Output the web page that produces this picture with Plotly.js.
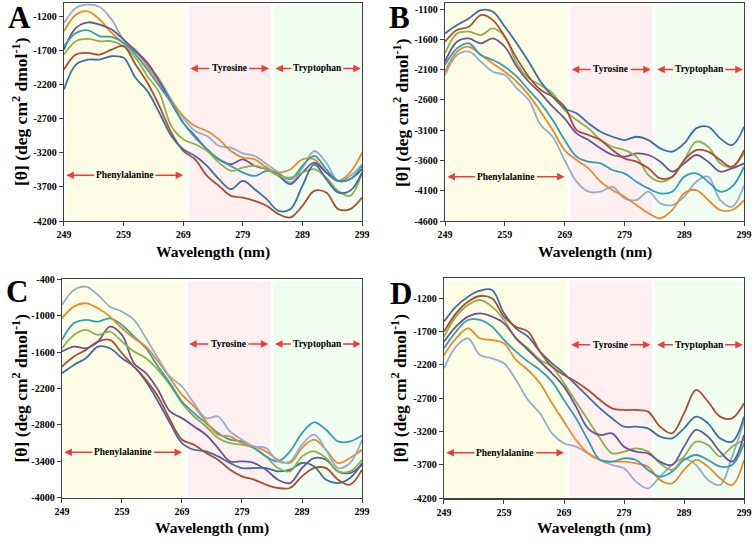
<!DOCTYPE html>
<html>
<head>
<meta charset="utf-8">
<script src="https://cdn.plot.ly/plotly-3.0.1.min.js"></script>
<style>html,body{margin:0;padding:0;background:#fff;}</style>
</head>
<body>
<div id="chart" style="width:752px;height:540px;"></div>
<script>
// Wavelength samples (nm)
const wavelength = [249,251,253,255,257,259,261,263,265,267,269,271,273,275,277,279,281,283,285,287,289,291,293,295,297,299];
const xTicks = [249,259,269,279,289,299];

// Panel A
const A_blue   = [-2269,-1903,-1830,-1830,-1781,-1805,-2098,-2293,-2610,-2952,-3147,-3245,-3391,-3586,-3733,-3611,-3733,-3879,-4050,-4025,-3684,-3367,-3586,-3781,-3757,-3489];
const A_red    = [-1976,-1756,-1732,-1756,-1683,-1634,-1903,-2171,-2513,-2903,-3172,-3294,-3538,-3684,-3830,-3855,-3903,-3977,-4099,-4147,-3977,-3757,-3781,-4025,-4025,-3855];
const A_green  = [-1756,-1561,-1527,-1561,-1561,-1634,-1805,-2074,-2318,-2806,-3001,-3074,-3172,-3342,-3464,-3416,-3391,-3440,-3538,-3562,-3489,-3440,-3562,-3757,-3830,-3489];
const A_purple = [-1683,-1366,-1283,-1317,-1390,-1537,-1708,-1878,-2147,-2464,-2757,-2952,-3147,-3294,-3367,-3294,-3391,-3440,-3538,-3659,-3489,-3342,-3489,-3611,-3586,-3440];
const A_teal   = [-1634,-1439,-1400,-1488,-1498,-1586,-1756,-1976,-2220,-2464,-2757,-2976,-3147,-3294,-3391,-3489,-3538,-3464,-3513,-3586,-3391,-3245,-3440,-3611,-3586,-3391];
const A_orange = [-1415,-1171,-1122,-1244,-1439,-1586,-1708,-1927,-2171,-2440,-2659,-2806,-2879,-3001,-3172,-3269,-3294,-3416,-3489,-3440,-3294,-3294,-3489,-3611,-3489,-3196];
const A_lblue  = [-1293,-1073,-1024,-1058,-1244,-1537,-1683,-1903,-2122,-2415,-2684,-2879,-2952,-3098,-3123,-3206,-3245,-3367,-3489,-3635,-3420,-3172,-3342,-3611,-3538,-3367];

// Panel B
const B_blue   = [-1502,-1364,-1254,-1117,-1144,-1392,-1667,-1969,-2300,-2547,-2740,-2822,-2987,-3125,-3208,-3263,-3208,-3263,-3400,-3455,-3318,-3070,-3043,-3235,-3345,-3043];
const B_red    = [-1639,-1447,-1392,-1199,-1282,-1557,-1914,-2217,-2437,-2547,-2712,-3098,-3180,-3263,-3428,-3565,-3620,-3730,-3895,-3868,-3593,-3428,-3455,-3593,-3703,-3428];
const B_green  = [-1832,-1502,-1474,-1529,-1419,-1557,-1997,-2245,-2355,-2492,-2767,-2932,-3070,-3263,-3373,-3428,-3538,-3840,-3950,-3868,-3593,-3290,-3373,-3648,-3703,-3483];
const B_purple = [-1969,-1639,-1584,-1667,-1584,-1722,-2052,-2300,-2492,-2712,-2905,-3153,-3263,-3400,-3510,-3538,-3483,-3510,-3620,-3785,-3648,-3510,-3620,-3785,-3730,-3648];
const B_teal   = [-2025,-1749,-1667,-1859,-1942,-2052,-2217,-2437,-2657,-2932,-3263,-3538,-3620,-3648,-3758,-3813,-3950,-4061,-4143,-4116,-3868,-3813,-3950,-4116,-4033,-3703];
const B_orange = [-2135,-1804,-1722,-1859,-1997,-2135,-2300,-2520,-2795,-3098,-3428,-3593,-3730,-3950,-4088,-4198,-4336,-4473,-4556,-4418,-4143,-4088,-4253,-4418,-4418,-4253];
const B_lblue  = [-2190,-1859,-1804,-1969,-2135,-2190,-2410,-2602,-3015,-3208,-3593,-3950,-4116,-4116,-4033,-4226,-4253,-4116,-4308,-4336,-4198,-3950,-3868,-4253,-4363,-4006];

// Panel C
const C_blue   = [-1948,-1812,-1702,-1511,-1538,-1702,-1839,-2085,-2413,-2769,-3097,-3207,-3234,-3316,-3425,-3508,-3508,-3508,-3562,-3535,-3425,-3480,-3699,-3754,-3672,-3425];
const C_red    = [-1839,-1675,-1565,-1429,-1401,-1620,-1839,-2058,-2331,-2714,-3042,-3124,-3261,-3371,-3535,-3644,-3699,-3781,-3836,-3836,-3644,-3508,-3508,-3699,-3781,-3535];
const C_green  = [-1538,-1319,-1237,-1319,-1264,-1429,-1593,-1702,-1894,-2140,-2441,-2660,-2824,-3015,-3097,-3124,-3179,-3316,-3508,-3562,-3316,-3234,-3343,-3562,-3562,-3371];
const C_purple = [-1593,-1511,-1538,-1429,-1182,-1319,-1784,-1948,-2222,-2577,-2687,-2824,-2960,-3179,-3398,-3398,-3425,-3535,-3699,-3754,-3508,-3343,-3371,-3562,-3590,-3453];
const C_teal   = [-1401,-1128,-1073,-1100,-1046,-1155,-1346,-1538,-1839,-2112,-2413,-2605,-2769,-2933,-3042,-3070,-3179,-3316,-3398,-3234,-2933,-2758,-2878,-3070,-3070,-2971];
const C_orange = [-1046,-854,-799,-881,-1018,-1210,-1374,-1511,-1757,-2030,-2304,-2495,-2742,-2960,-2988,-3097,-3152,-3234,-3371,-3425,-3179,-3042,-3207,-3425,-3343,-3207];
const C_lblue  = [-827,-581,-526,-663,-854,-936,-1073,-1374,-1702,-2003,-2167,-2441,-2687,-2660,-2906,-3042,-3152,-3179,-3398,-3398,-3124,-2960,-3207,-3508,-3425,-3042];

// Panel D
const D_blue   = [-1550,-1325,-1175,-1085,-1075,-1425,-1650,-1775,-2000,-2175,-2325,-2500,-2675,-2850,-3000,-3125,-3125,-3150,-3275,-3300,-3150,-2975,-3075,-3300,-3350,-2975];
const D_red    = [-1700,-1425,-1250,-1165,-1200,-1475,-1625,-1700,-2000,-2225,-2350,-2450,-2575,-2725,-2850,-2875,-2875,-2900,-3125,-3225,-2925,-2575,-2750,-2975,-3000,-2775];
const D_green  = [-1775,-1475,-1300,-1225,-1325,-1525,-1800,-1950,-2125,-2225,-2475,-2750,-3025,-3300,-3525,-3500,-3450,-3500,-3675,-3775,-3575,-3350,-3400,-3575,-3425,-3325];
const D_purple = [-1850,-1625,-1475,-1425,-1475,-1575,-1800,-1975,-2150,-2325,-2525,-2825,-3150,-3250,-3225,-3425,-3500,-3525,-3650,-3700,-3425,-3175,-3275,-3500,-3650,-3250];
const D_teal   = [-1950,-1700,-1525,-1525,-1625,-1825,-2000,-2150,-2275,-2450,-2725,-3000,-3325,-3625,-3650,-3600,-3625,-3775,-3875,-3800,-3625,-3550,-3625,-3725,-3700,-3375];
const D_orange = [-2050,-1800,-1650,-1800,-1825,-1875,-2125,-2275,-2475,-2775,-3050,-3325,-3525,-3625,-3650,-3650,-3675,-3725,-3925,-3975,-3775,-3625,-3725,-3900,-4000,-3625];
const D_lblue  = [-2250,-1925,-1800,-2050,-2100,-2175,-2425,-2725,-2925,-3225,-3375,-3425,-3525,-3625,-3700,-3750,-3950,-4050,-3875,-3700,-3600,-3700,-3925,-4000,-3575,-3050];

// Y tick values per panel
const A_yTicks = [-4200,-3700,-3200,-2700,-2200,-1700,-1200];
const B_yTicks = [-4600,-4100,-3600,-3100,-2600,-2100,-1600,-1100];
const C_yTicks = [-4000,-3400,-2800,-2200,-1600,-1000,-400];
const D_yTicks = [-4200,-3700,-3200,-2700,-2200,-1700,-1200];

const regionNames = ["Phenylalanine","Tyrosine","Tryptophan"];

const colors = {blue:'#3C6EA3', red:'#AE4B33', green:'#8DB148', purple:'#6E5197', teal:'#2F9FB4', orange:'#EA8A2A', lblue:'#94ADCE'};
const FONT = 'Liberation Serif, Times New Roman, serif';

const panels = [
  {id:'', letter:'A', series:{lblue:A_lblue, orange:A_orange, purple:A_purple, teal:A_teal, green:A_green, red:A_red, blue:A_blue}, yTicks:A_yTicks, yr:[-4200,-1000],
   xd:[0.0851,0.4814], yd:[0.5907,0.9944], arrowY:[-3530,-1960], letterPos:[0.0253,0.9667], ytPos:[0.0266,0.7926], xtPos:[0.2832,0.5330]},
  {id:'2', letter:'B', series:{lblue:B_lblue, orange:B_orange, teal:B_teal, purple:B_purple, green:B_green, red:B_red, blue:B_blue}, yTicks:B_yTicks, yr:[-4600,-1000],
   xd:[0.5918,0.9894], yd:[0.5907,0.9944], arrowY:[-3868,-2096], letterPos:[0.5306,0.9685], ytPos:[0.5332,0.7926], xtPos:[0.7906,0.5330]},
  {id:'3', letter:'C', series:{blue:C_blue, red:C_red, purple:C_purple, green:C_green, teal:C_teal, orange:C_orange, lblue:C_lblue}, yTicks:C_yTicks, yr:[-4000,-400],
   xd:[0.0824,0.4814], yd:[0.0778,0.4833], arrowY:[-3250,-1467], letterPos:[0.0226,0.4611], ytPos:[0.0266,0.2806], xtPos:[0.2819,0.0230]},
  {id:'4', letter:'D', series:{lblue:D_lblue, orange:D_orange, teal:D_teal, green:D_green, purple:D_purple, blue:D_blue, red:D_red}, yTicks:D_yTicks, yr:[-4200,-900],
   xd:[0.5904,0.9894], yd:[0.0772,0.4846], arrowY:[-3515,-1895], letterPos:[0.5332,0.4574], ytPos:[0.5306,0.2806], xtPos:[0.7899,0.0230]}
];

// region shading spans and label geometry (nm)
const shades = [
  {x0:249.2, x1:269.4, color:'#FEFEE7'},
  {x0:270.0, x1:283.7, color:'#FEF0F0'},
  {x0:284.2, x1:299,   color:'#F0FDF0'}
];
const labels = [
  {name:regionNames[0], c:259.2, l:249.4, r:269.0, tl:254.3, tr:264.1, row:0},
  {name:regionNames[1], c:276.7, l:270.2, r:283.4, tl:273.6, tr:279.8, row:1},
  {name:regionNames[2], c:291.5, l:284.5, r:298.8, tl:287.4, tr:295.6, row:1}
];

const traces = [];
const layout = {
  width:752, height:540, margin:{l:0,r:0,t:0,b:0},
  paper_bgcolor:'#ffffff', plot_bgcolor:'#ffffff', showlegend:false,
  font:{family:FONT, color:'#000'},
  shapes:[], annotations:[]
};

panels.forEach(p => {
  const xa = 'x'+p.id, ya = 'y'+p.id;
  Object.keys(p.series).forEach(k => {
    traces.push({x:wavelength, y:p.series[k], xaxis:xa, yaxis:ya, type:'scatter', mode:'lines',
      line:{color:colors[k], width:1.8, shape:'spline', smoothing:1}, hoverinfo:'skip'});
  });
  layout['xaxis'+p.id] = {domain:p.xd, anchor:ya, range:[249,299], tickvals:xTicks, ticktext:xTicks.map(String),
    ticks:'outside', ticklen:4, tickwidth:1, tickcolor:'#404040', showline:true, mirror:true, linecolor:'#404040', linewidth:1.3,
    showgrid:false, zeroline:false, tickfont:{family:FONT, size:10, weight:700, color:'#000'}};
  layout['yaxis'+p.id] = {domain:p.yd, anchor:xa, range:p.yr, tickvals:p.yTicks, ticktext:p.yTicks.map(String),
    ticks:'outside', ticklen:4, tickwidth:1, tickcolor:'#404040', showline:true, mirror:true, linecolor:'#404040', linewidth:1.3,
    showgrid:false, zeroline:false, tickfont:{family:FONT, size:10, weight:700, color:'#000'}};
  shades.forEach(s => layout.shapes.push({type:'rect', xref:xa, yref:ya+' domain', x0:s.x0, x1:s.x1, y0:0.004, y1:0.99,
    fillcolor:s.color, line:{width:0}, layer:'below'}));
  labels.forEach(L => {
    const y = p.arrowY[L.row];
    layout.annotations.push({xref:xa, yref:ya, x:L.c, y:y, text:L.name, showarrow:false, xanchor:'center', yanchor:'middle',
      font:{family:FONT, size:9.5, weight:700, color:'#000'}});
    [[L.l, L.tl],[L.r, L.tr]].forEach(([h,t]) => layout.annotations.push({xref:xa, yref:ya, x:h, y:y, ax:t, ay:y,
      axref:xa, ayref:ya, text:'', showarrow:true, arrowhead:2, arrowsize:1, arrowwidth:1.5, arrowcolor:'#F23A3A', standoff:0, startstandoff:0}));
  });
  layout.annotations.push({xref:'paper', yref:'paper', x:p.letterPos[0], y:p.letterPos[1], text:p.letter, showarrow:false,
    xanchor:'center', yanchor:'middle', font:{family:FONT, size:31, weight:700, color:'#000'}});
  layout.annotations.push({xref:'paper', yref:'paper', x:p.ytPos[0], y:p.ytPos[1], textangle:-90, xanchor:'center', yanchor:'middle',
    text:'[θ] (deg cm<sup>2</sup> dmol<sup>-1</sup>)', showarrow:false, font:{family:FONT, size:17.5, weight:700, color:'#000'}});
  layout.annotations.push({xref:'paper', yref:'paper', x:p.xtPos[0], y:p.xtPos[1], xanchor:'center', yanchor:'middle',
    text:'Wavelength (nm)', showarrow:false, font:{family:FONT, size:15.5, weight:700, color:'#000'}});
});

Plotly.newPlot('chart', traces, layout, {staticPlot:true, displayModeBar:false});
</script>
</body>
</html>
